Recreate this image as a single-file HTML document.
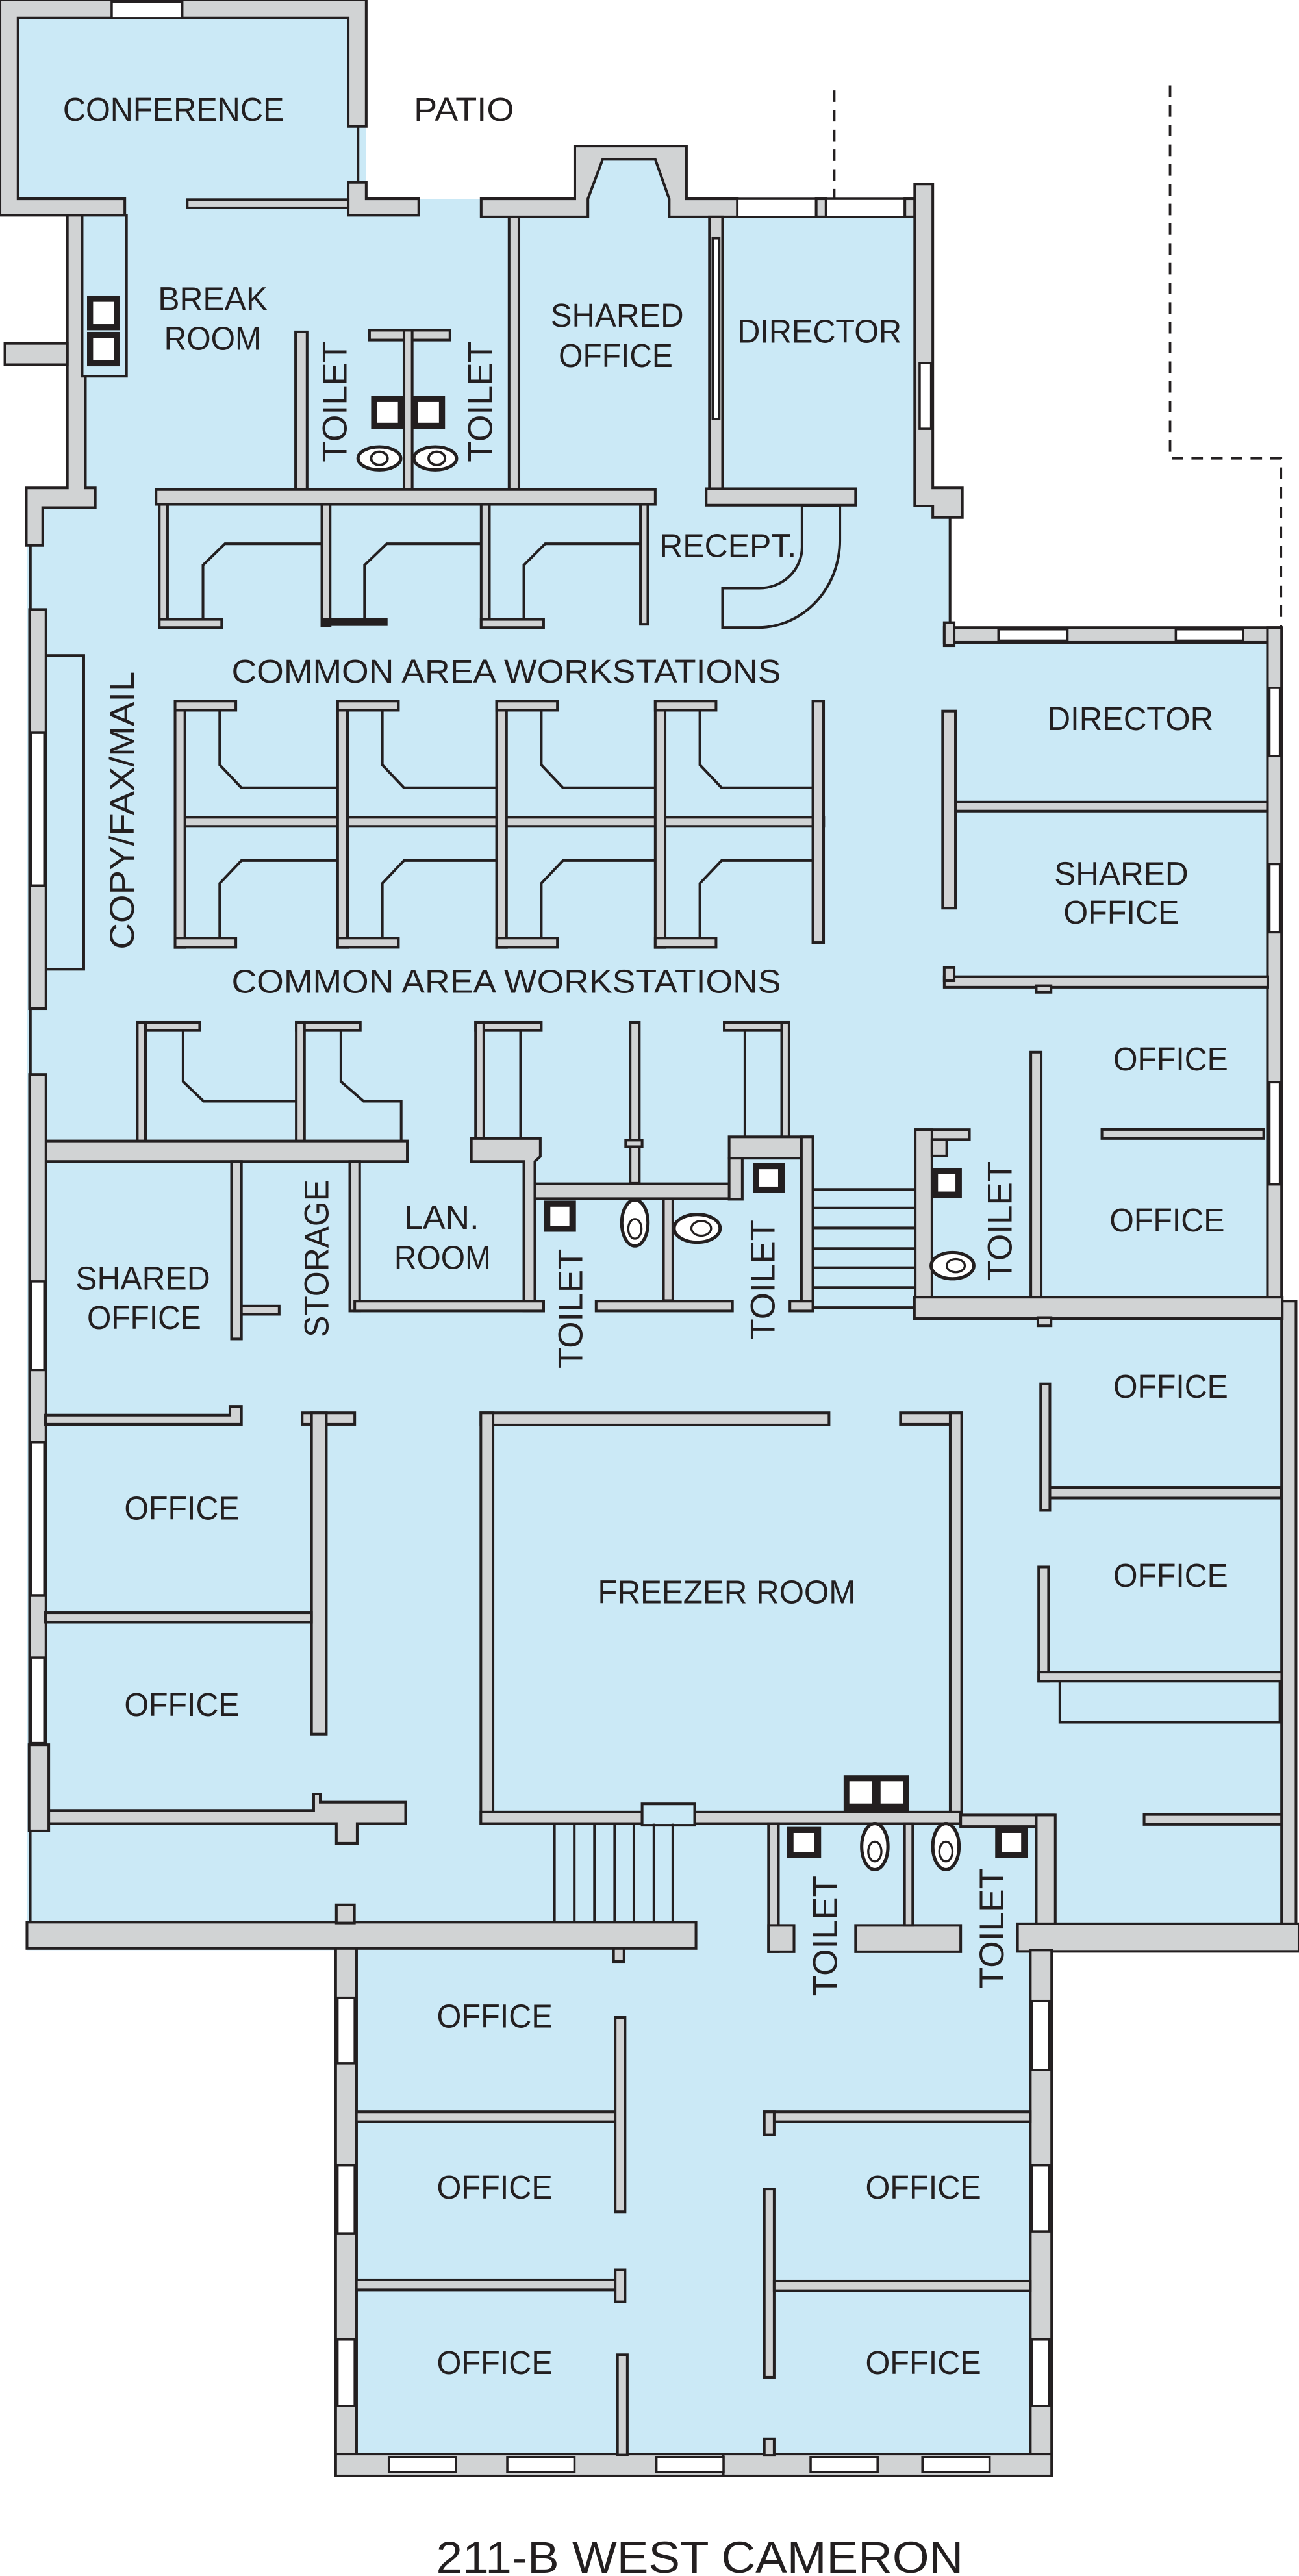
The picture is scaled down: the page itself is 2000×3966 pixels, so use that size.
<!DOCTYPE html>
<html><head><meta charset="utf-8"><style>
html,body{margin:0;padding:0;background:#fff}
svg{display:block}
.w{fill:#d1d3d4;stroke:#231f20;stroke-width:1.6}
.p{fill:#cbe9f6;stroke:#231f20;stroke-width:1.6}
.l{fill:none;stroke:#231f20;stroke-width:1.6}
.n{fill:#fff;stroke:#231f20;stroke-width:1.4}
.k{fill:#231f20}
.d{fill:none;stroke:#231f20;stroke-width:1.5;stroke-dasharray:7 5}
text{font-family:"Liberation Sans",sans-serif;font-size:20px;fill:#231f20}
.t{font-size:21px}
</style></head><body>
<svg width="2000" height="3966" viewBox="0 0 791 1568" preserveAspectRatio="none" xmlns="http://www.w3.org/2000/svg">
<polygon fill="#cbe9f6" points="0,0 223,0 223,121 350,121 350,89 418,89 418,121 568,121 568,315 578.5,315 578.5,382 780,382 780,792 789,792 789,1187 640,1187 640,1507 204.4,1507 204.4,1187 16.4,1187 16.4,297 41,297 41,131 0,131"/>

<polyline class="d" points="508,55 508,121"/>
<polyline class="d" points="712.5,52 712.5,279 780,279 780,382"/>

<polygon class="w" points="0,0 223,0 223,77 212,77 212,11 11,11 11,121 76,121 76,131 0,131"/>
<rect class="n" x="68" y="1" width="43" height="10"/>
<line class="l" x1="218" y1="77" x2="218" y2="111"/>
<polygon class="w" points="212,111 223,111 223,121 255,121 255,131 212,131"/>
<rect class="w" x="114" y="121.5" width="98" height="5"/>

<polygon class="w" points="41,131 52,131 52,297 58,297 58,309 26,309 26,332 16,332 16,297 41,297"/>
<rect class="w" x="3" y="209" width="38" height="13"/>
<rect class="p" x="50" y="131" width="27" height="98"/>
<rect class="k" x="53" y="180" width="20" height="21"/><rect class="n" x="56" y="183" width="14" height="15"/>
<rect class="k" x="53" y="202" width="20" height="21"/><rect class="n" x="56" y="205" width="14" height="15"/>

<rect class="w" x="180" y="202" width="7" height="99"/>
<rect class="w" x="225" y="201" width="49" height="6"/>
<rect class="w" x="246" y="201" width="5" height="97"/>
<rect class="k" x="226" y="241" width="20" height="20"/><rect class="n" x="229" y="244" width="14" height="14"/>
<rect class="k" x="251" y="241" width="20" height="20"/><rect class="n" x="254" y="244" width="14" height="14"/>
<ellipse cx="231" cy="279" rx="13" ry="7" fill="#fff" stroke="#231f20" stroke-width="2"/>
<ellipse cx="231" cy="279" rx="5" ry="4" fill="none" stroke="#231f20" stroke-width="1.5"/>
<ellipse cx="265" cy="279" rx="13" ry="7" fill="#fff" stroke="#231f20" stroke-width="2"/>
<ellipse cx="266" cy="279" rx="5" ry="4" fill="none" stroke="#231f20" stroke-width="1.5"/>
<rect class="w" x="310" y="124" width="6" height="176"/>

<polygon class="w" points="293,121 350,121 350,89 418,89 418,121 449,121 449,132 407.5,132 407.5,121 399,97 367,97 358,121 358,132 316,132 293,132"/>
<rect class="n" x="449" y="121" width="48" height="11"/>
<rect class="w" x="497" y="121" width="6" height="11"/>
<rect class="n" x="503" y="121" width="48" height="11"/>
<rect class="w" x="551" y="121" width="6" height="11"/>
<polygon class="w" points="557,112 568,112 568,297 586,297 586,315 568,315 568,308 557,308"/>
<rect class="n" x="560" y="221" width="7" height="40"/>
<line class="l" x1="578.5" y1="315" x2="578.5" y2="382"/>
<rect class="w" x="432" y="132" width="8" height="174"/>
<rect class="n" x="434" y="145" width="4" height="110"/>
<rect class="w" x="430" y="297.5" width="91" height="10"/>
<path class="p" d="M488.4,308 L488.4,333 A26,25 0 0 1 462,358 L440,358 L440,382 L462,382 A50,53 0 0 0 511.4,329 L511.4,308 Z"/>

<rect class="w" x="95" y="298" width="304" height="9"/>
<rect class="w" x="97" y="307" width="5" height="75"/>
<rect class="w" x="196" y="307" width="5" height="74"/>
<rect class="w" x="293" y="307" width="5" height="75"/>
<rect class="w" x="390" y="307" width="4.5" height="73"/>
<rect class="w" x="97" y="377" width="38" height="5"/>
<rect class="k" x="196" y="376" width="40" height="5"/>
<rect class="w" x="293" y="377" width="38" height="5"/>
<polyline class="l" points="196,331 137,331 123.6,344 123.6,377"/>
<polyline class="l" points="293,331 235.5,331 222,344 222,376"/>
<polyline class="l" points="390,331 332,331 319,344 319,377"/>

<rect class="w" x="106.6" y="497.5" width="395" height="5.5"/>
<g>
<rect class="w" x="106.6" y="426.7" width="6" height="150"/><rect class="w" x="106.6" y="426.7" width="37" height="5.6"/><rect class="w" x="106.6" y="571" width="37" height="5.6"/>
<polyline class="l" points="133.8,432.3 133.8,465.6 147,479.5 205.6,479.5"/><polyline class="l" points="205.6,523.8 147,523.8 133.8,537.7 133.8,571"/>
<rect class="w" x="205.6" y="426.7" width="6" height="150"/><rect class="w" x="205.6" y="426.7" width="37" height="5.6"/><rect class="w" x="205.6" y="571" width="37" height="5.6"/>
<polyline class="l" points="232.8,432.3 232.8,465.6 246,479.5 302.4,479.5"/><polyline class="l" points="302.4,523.8 246,523.8 232.8,537.7 232.8,571"/>
<rect class="w" x="302.4" y="426.7" width="6" height="150"/><rect class="w" x="302.4" y="426.7" width="37" height="5.6"/><rect class="w" x="302.4" y="571" width="37" height="5.6"/>
<polyline class="l" points="329.6,432.3 329.6,465.6 342.8,479.5 399,479.5"/><polyline class="l" points="399,523.8 342.8,523.8 329.6,537.7 329.6,571"/>
<rect class="w" x="399" y="426.7" width="6" height="150"/><rect class="w" x="399" y="426.7" width="37" height="5.6"/><rect class="w" x="399" y="571" width="37" height="5.6"/>
<polyline class="l" points="426.2,432.3 426.2,465.6 439.4,479.5 495,479.5"/><polyline class="l" points="495,523.8 439.4,523.8 426.2,537.7 426.2,571"/>
<rect class="w" x="495" y="426.7" width="6.5" height="147"/>
</g>

<rect class="p" x="28" y="399" width="23" height="191"/>
<rect class="w" x="18" y="371" width="10" height="243"/>
<rect class="n" x="19" y="446" width="8" height="93"/>
<line class="l" x1="18.5" y1="332" x2="18.5" y2="371"/>
<line class="l" x1="18.5" y1="614" x2="18.5" y2="654"/>

<rect class="w" x="83.6" y="622.3" width="38" height="5"/>
<rect class="w" x="83.6" y="622.3" width="5" height="73"/>
<polyline class="l" points="111.5,627 111.5,658.4 124,670.3 180.4,670.3"/>
<rect class="w" x="180.4" y="622.3" width="39" height="5"/>
<rect class="w" x="180.4" y="622.3" width="5" height="73"/>
<polyline class="l" points="207.6,627 207.6,658.4 221.4,670.3 244.3,670.3 244.3,694.5"/>
<rect class="w" x="28" y="694.5" width="220" height="12.5"/>
<rect class="w" x="289.6" y="622.3" width="40" height="5"/>
<rect class="w" x="289.6" y="622.3" width="5" height="72"/>
<line class="l" x1="317" y1="627" x2="317" y2="693"/>
<polygon class="w" points="287,693 329,693 329,704 325.7,707 325.7,792 331,792 331,798 319,798 319,707 287,707"/>
<rect class="w" x="383.7" y="622.3" width="5.6" height="98"/>
<rect class="w" x="381" y="694" width="10" height="4"/>
<rect class="w" x="441" y="622.3" width="39.5" height="5"/>
<rect class="w" x="476" y="622.3" width="4.5" height="72"/>
<line class="l" x1="453.6" y1="627" x2="453.6" y2="692"/>

<rect class="w" x="325.7" y="720.6" width="126" height="9"/>
<rect class="w" x="444" y="692" width="51" height="13"/>
<rect class="w" x="444" y="705" width="8" height="25"/>
<rect class="w" x="488" y="692" width="7" height="106"/>
<rect class="w" x="481" y="792" width="14" height="6"/>
<rect class="w" x="404" y="729.7" width="5.7" height="62"/>
<rect class="w" x="363" y="792" width="83" height="6"/>
<rect class="k" x="331.4" y="730.8" width="19.3" height="19"/><rect class="n" x="334.4" y="733.8" width="13" height="13"/>
<rect class="k" x="458.5" y="708" width="19.4" height="18.2"/><rect class="n" x="461.5" y="711" width="13" height="12"/>
<ellipse cx="386.6" cy="744.4" rx="8" ry="14" fill="#fff" stroke="#231f20" stroke-width="2"/>
<ellipse cx="386.6" cy="748" rx="4" ry="6" fill="none" stroke="#231f20" stroke-width="1.3"/>
<ellipse cx="424.5" cy="747.7" rx="14" ry="8.5" fill="#fff" stroke="#231f20" stroke-width="2"/>
<ellipse cx="427" cy="747.7" rx="6" ry="4.5" fill="none" stroke="#231f20" stroke-width="1.3"/>
<g class="l">
<line x1="495" y1="724" x2="557.3" y2="724"/><line x1="495" y1="735.3" x2="557.3" y2="735.3"/>
<line x1="495" y1="747.4" x2="557.3" y2="747.4"/><line x1="495" y1="760" x2="557.3" y2="760"/>
<line x1="495" y1="771.6" x2="557.3" y2="771.6"/><line x1="495" y1="783.7" x2="557.3" y2="783.7"/>
<line x1="495" y1="795.9" x2="557.3" y2="795.9"/>
</g>
<rect class="w" x="557.3" y="687.6" width="33" height="6"/>
<rect class="w" x="557.3" y="687.6" width="10.2" height="114"/>
<rect class="w" x="567.5" y="693.7" width="9" height="10"/>
<rect class="k" x="567.5" y="711" width="18.2" height="18.3"/><rect class="n" x="570.5" y="714" width="12" height="12"/>
<ellipse cx="580" cy="770.4" rx="13" ry="8" fill="#fff" stroke="#231f20" stroke-width="2"/>
<ellipse cx="582" cy="770.4" rx="5.5" ry="4" fill="none" stroke="#231f20" stroke-width="1.3"/>

<rect class="w" x="213" y="707" width="6" height="91"/>
<rect class="w" x="216" y="792" width="115" height="6"/>
<rect class="w" x="141" y="707" width="6" height="108"/>
<rect class="w" x="147" y="795" width="23" height="5"/>
<rect class="w" x="18" y="654" width="10" height="460"/>
<rect class="n" x="19" y="780" width="8" height="54"/>
<rect class="n" x="19" y="878" width="8" height="93"/>
<rect class="n" x="19" y="1009" width="8" height="52"/>
<polygon class="w" points="27.7,861.4 140,861.4 140,856 147,856 147,867 27.7,867"/>

<rect class="w" x="184" y="860" width="32" height="7"/>
<rect class="w" x="189.7" y="860" width="9" height="195.5"/>
<rect class="w" x="27.7" y="981.7" width="162" height="5.7"/>
<polygon class="w" points="27.7,1102 191,1102 191,1092 195,1092 195,1097 247,1097 247,1110 217.5,1110 217.5,1122 204.8,1122 204.8,1110 27.7,1110"/>
<rect class="w" x="17.7" y="1062" width="12" height="52.5"/>
<line class="l" x1="18.4" y1="1114.5" x2="18.4" y2="1170"/>

<rect class="w" x="292.8" y="860" width="212" height="7.4"/>
<rect class="w" x="292.8" y="860" width="7.4" height="250"/>
<rect class="w" x="548.3" y="860" width="37.4" height="7"/>
<rect class="w" x="578.6" y="860" width="7" height="245"/>
<rect class="w" x="292.8" y="1103" width="98.2" height="7"/>
<rect class="w" x="423" y="1103" width="162" height="7"/>
<rect class="p" x="391" y="1098" width="32" height="13"/>
<rect class="k" x="513.7" y="1080.6" width="39.7" height="22.4"/>
<rect class="n" x="516.5" y="1083.5" width="15" height="15"/><rect class="n" x="535.5" y="1083.5" width="15" height="15"/>
<rect class="w" x="585" y="1104.8" width="57" height="7"/>
<g class="l">
<line x1="337.6" y1="1110" x2="337.6" y2="1171"/><line x1="349.7" y1="1110" x2="349.7" y2="1171"/>
<line x1="362" y1="1110" x2="362" y2="1171"/><line x1="374.3" y1="1110" x2="374.3" y2="1171"/>
<line x1="386" y1="1110" x2="386" y2="1171"/><line x1="398.2" y1="1110" x2="398.2" y2="1171"/>
<line x1="409.7" y1="1110" x2="409.7" y2="1171"/>
</g>
<rect class="w" x="468" y="1110" width="6" height="78"/>
<rect class="w" x="468" y="1172" width="15.5" height="16"/>
<rect class="w" x="521" y="1172" width="64" height="16"/>
<rect class="w" x="550.8" y="1110" width="5" height="62"/>
<rect class="w" x="631" y="1104.8" width="11.6" height="70"/>
<rect class="k" x="479" y="1112" width="21" height="19"/><rect class="n" x="482.5" y="1115" width="14" height="13"/>
<rect class="k" x="606" y="1112" width="20" height="19"/><rect class="n" x="609.5" y="1115" width="13" height="13"/>
<ellipse cx="532.7" cy="1124" rx="8" ry="14" fill="#fff" stroke="#231f20" stroke-width="2"/>
<ellipse cx="532.7" cy="1127" rx="4" ry="6" fill="none" stroke="#231f20" stroke-width="1.3"/>
<ellipse cx="576" cy="1124" rx="8" ry="14" fill="#fff" stroke="#231f20" stroke-width="2"/>
<ellipse cx="576" cy="1127" rx="4" ry="6" fill="none" stroke="#231f20" stroke-width="1.3"/>

<rect class="w" x="575" y="382" width="205" height="9"/>
<rect class="n" x="608" y="383" width="42" height="7"/>
<rect class="n" x="716" y="383" width="41" height="7"/>
<rect class="w" x="575" y="379" width="6" height="14"/>
<rect class="w" x="771.8" y="382" width="8.6" height="410"/>
<rect class="n" x="773" y="418.7" width="6.4" height="41.6"/>
<rect class="n" x="773" y="526" width="6.4" height="41.5"/>
<rect class="n" x="773" y="658.8" width="6.4" height="62.2"/>
<rect class="w" x="780.4" y="792" width="8.8" height="395"/>
<rect class="w" x="579.5" y="488.2" width="192.3" height="5.5"/>
<rect class="w" x="574" y="432.8" width="7.8" height="120"/>
<rect class="w" x="575" y="594.5" width="197" height="6.4"/>
<rect class="w" x="575" y="589" width="6" height="8"/>
<rect class="w" x="631" y="600" width="9" height="4"/>
<rect class="w" x="627.7" y="640.4" width="6.3" height="149.2"/>
<rect class="w" x="671" y="687.5" width="98.5" height="5.5"/>
<rect class="w" x="556.8" y="789.6" width="224" height="13"/>
<rect class="w" x="632" y="802" width="8" height="5"/>
<rect class="w" x="636.3" y="905.4" width="144" height="6.5"/>
<rect class="w" x="633.7" y="842.4" width="5.6" height="77"/>
<rect class="w" x="632.5" y="953.8" width="6" height="69.5"/>
<rect class="w" x="632.5" y="1017.7" width="148" height="5.6"/>
<rect class="p" x="645.4" y="1023.3" width="134" height="25"/>
<rect class="w" x="696.7" y="1104.5" width="83.7" height="6"/>

<rect class="w" x="16.4" y="1170" width="407.4" height="16"/>
<rect class="w" x="204.8" y="1159.5" width="11" height="11"/>
<rect class="w" x="373.6" y="1186" width="6.4" height="8"/>
<rect class="w" x="619.6" y="1171" width="171.4" height="16.8"/>

<rect class="w" x="204.4" y="1186" width="12.7" height="321"/>
<rect class="n" x="205.5" y="1216" width="10.5" height="40"/>
<rect class="n" x="205.5" y="1318" width="10.5" height="41.7"/>
<rect class="n" x="205.5" y="1424" width="10.5" height="40.5"/>
<rect class="w" x="627.4" y="1187" width="13" height="320"/>
<rect class="n" x="628.5" y="1218" width="10.5" height="42"/>
<rect class="n" x="628.5" y="1318" width="10.5" height="40.5"/>
<rect class="n" x="628.5" y="1424" width="10.5" height="40.5"/>
<rect class="w" x="204.4" y="1493.7" width="236" height="13.4"/>
<rect class="w" x="440.4" y="1493.7" width="200" height="13.4"/>
<rect class="n" x="236.8" y="1495.7" width="40.9" height="9"/>
<rect class="n" x="308.9" y="1495.7" width="40.9" height="9"/>
<rect class="n" x="399.7" y="1495.7" width="40.9" height="9"/>
<rect class="n" x="493.6" y="1495.7" width="40.8" height="9"/>
<rect class="n" x="561.7" y="1495.7" width="40.9" height="9"/>
<rect class="w" x="217" y="1285.4" width="159" height="6.1"/>
<rect class="w" x="374.6" y="1228" width="6" height="118.3"/>
<rect class="w" x="217" y="1387.7" width="163" height="6.1"/>
<rect class="w" x="374.6" y="1381.6" width="6" height="19.4"/>
<rect class="w" x="376" y="1433.3" width="6" height="61"/>
<rect class="w" x="465.4" y="1285.4" width="162" height="6.1"/>
<rect class="w" x="465.4" y="1285.4" width="6" height="14"/>
<rect class="w" x="465.4" y="1332.4" width="6" height="114.6"/>
<rect class="w" x="471.4" y="1388.5" width="156" height="5.8"/>
<rect class="w" x="465.4" y="1484.5" width="6" height="10"/>

<text x="38.3" y="73.6" textLength="134.7" lengthAdjust="spacingAndGlyphs">CONFERENCE</text>
<text x="252" y="73.6" textLength="61" lengthAdjust="spacingAndGlyphs">PATIO</text>
<text x="96.2" y="188.7" textLength="66.8" lengthAdjust="spacingAndGlyphs">BREAK</text>
<text x="99.9" y="212.9" textLength="59.1" lengthAdjust="spacingAndGlyphs">ROOM</text>
<text class="t" transform="translate(203,244.6) rotate(-90)" x="-36.8" y="8" textLength="73.6" lengthAdjust="spacingAndGlyphs">TOILET</text>
<text class="t" transform="translate(291.5,244.6) rotate(-90)" x="-36.8" y="8" textLength="73.6" lengthAdjust="spacingAndGlyphs">TOILET</text>
<text x="335.3" y="198.8" textLength="81" lengthAdjust="spacingAndGlyphs">SHARED</text>
<text x="340.2" y="223.3" textLength="69.5" lengthAdjust="spacingAndGlyphs">OFFICE</text>
<text x="449" y="208.5" textLength="100" lengthAdjust="spacingAndGlyphs">DIRECTOR</text>
<text x="401.5" y="339.1" textLength="83.5" lengthAdjust="spacingAndGlyphs">RECEPT.</text>
<text x="141" y="415.6" textLength="334.6" lengthAdjust="spacingAndGlyphs">COMMON AREA WORKSTATIONS</text>
<text x="141" y="604.3" textLength="334.6" lengthAdjust="spacingAndGlyphs">COMMON AREA WORKSTATIONS</text>
<text class="t" transform="translate(73.5,493.3) rotate(-90)" x="-84.6" y="8" textLength="169.2" lengthAdjust="spacingAndGlyphs">COPY/FAX/MAIL</text>
<text x="637.8" y="444.4" textLength="101" lengthAdjust="spacingAndGlyphs">DIRECTOR</text>
<text x="642" y="538.7" textLength="81.6" lengthAdjust="spacingAndGlyphs">SHARED</text>
<text x="647.6" y="562.3" textLength="70.4" lengthAdjust="spacingAndGlyphs">OFFICE</text>
<text x="677.9" y="651.5" textLength="69.9" lengthAdjust="spacingAndGlyphs">OFFICE</text>
<text x="675.6" y="749.7" textLength="70.1" lengthAdjust="spacingAndGlyphs">OFFICE</text>
<text x="677.9" y="850.9" textLength="69.9" lengthAdjust="spacingAndGlyphs">OFFICE</text>
<text x="677.9" y="965.9" textLength="69.9" lengthAdjust="spacingAndGlyphs">OFFICE</text>
<text x="246" y="748" textLength="45.7" lengthAdjust="spacingAndGlyphs">LAN.</text>
<text x="240" y="772.4" textLength="59" lengthAdjust="spacingAndGlyphs">ROOM</text>
<text x="46" y="785" textLength="82" lengthAdjust="spacingAndGlyphs">SHARED</text>
<text x="53" y="809" textLength="69.5" lengthAdjust="spacingAndGlyphs">OFFICE</text>
<text class="t" transform="translate(192,766) rotate(-90)" x="-48" y="8" textLength="96" lengthAdjust="spacingAndGlyphs">STORAGE</text>
<text class="t" transform="translate(346.6,796.6) rotate(-90)" x="-36.5" y="8" textLength="73" lengthAdjust="spacingAndGlyphs">TOILET</text>
<text class="t" transform="translate(463.6,779) rotate(-90)" x="-36.5" y="8" textLength="73" lengthAdjust="spacingAndGlyphs">TOILET</text>
<text class="t" transform="translate(608,743.3) rotate(-90)" x="-36.5" y="8" textLength="73" lengthAdjust="spacingAndGlyphs">TOILET</text>
<text x="75.7" y="925" textLength="70.1" lengthAdjust="spacingAndGlyphs">OFFICE</text>
<text x="75.7" y="1044.6" textLength="70.1" lengthAdjust="spacingAndGlyphs">OFFICE</text>
<text x="364" y="976" textLength="157" lengthAdjust="spacingAndGlyphs">FREEZER ROOM</text>
<text class="t" transform="translate(501.6,1178.5) rotate(-90)" x="-36.6" y="8" textLength="73.3" lengthAdjust="spacingAndGlyphs">TOILET</text>
<text class="t" transform="translate(603,1173.7) rotate(-90)" x="-36.6" y="8" textLength="73.3" lengthAdjust="spacingAndGlyphs">TOILET</text>
<text x="266" y="1234.2" textLength="70.5" lengthAdjust="spacingAndGlyphs">OFFICE</text>
<text x="266" y="1338.3" textLength="70.5" lengthAdjust="spacingAndGlyphs">OFFICE</text>
<text x="266" y="1445" textLength="70.5" lengthAdjust="spacingAndGlyphs">OFFICE</text>
<text x="527" y="1338.3" textLength="70.5" lengthAdjust="spacingAndGlyphs">OFFICE</text>
<text x="527" y="1445" textLength="70.5" lengthAdjust="spacingAndGlyphs">OFFICE</text>
<text x="265.6" y="1566" style="font-size:27px" textLength="321" lengthAdjust="spacingAndGlyphs">211-B WEST CAMERON</text>
</svg>
</body></html>
